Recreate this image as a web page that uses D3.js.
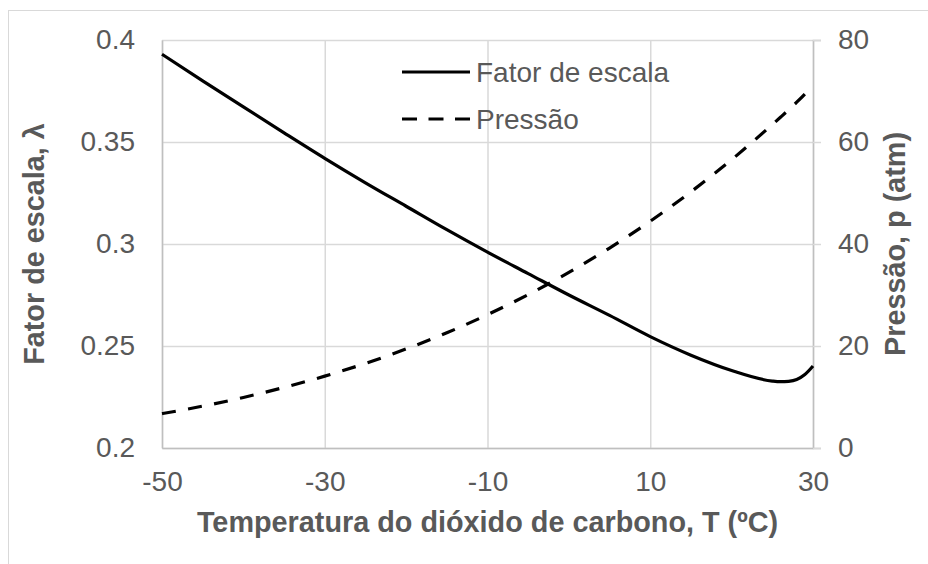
<!DOCTYPE html>
<html>
<head>
<meta charset="utf-8">
<script src="https://cdn.jsdelivr.net/npm/d3@7"></script>
<style>
  body { margin: 0; background: #fff; }
  text { font-family: Arial, "Liberation Sans", sans-serif; }
</style>
</head>
<body>
<div id="chart"></div>
<script>
// temperatura (ºC)
const temps = [-50, -45, -40, -35, -30, -25, -20, -15, -10, -5, 0, 5, 10, 15, 20, 25, 26, 27, 28, 29, 30];
// fator de escala, lambda
const lambda = [0.393, 0.3800, 0.3672, 0.3545, 0.342, 0.330, 0.3185, 0.307, 0.296, 0.2855, 0.275, 0.265, 0.2546,
    0.2455, 0.238, 0.2328, 0.2325, 0.2327, 0.2336, 0.2360, 0.2402];
// pressão (atm)
const pressure = [6.73, 8.21, 9.91, 11.88, 14.09, 16.59, 19.42, 22.59, 26.14, 30.08, 34.42, 39.21, 44.47,
    50.23, 56.53, 63.42, 64.85, 66.3, 67.8, 69.4, 71.12];

const xTicks = [-50, -30, -10, 10, 30];
const yLeftTicks = [0.2, 0.25, 0.3, 0.35, 0.4];
const yRightTicks = [0, 20, 40, 60, 80];
const seriesNames = ['Fator de escala', 'Pressão'];

const width = 928;
const height = 564;
const margin = { top: 40, bottom: 116, left: 162, right: 115 };
const textColor = '#595959';
const fs = '28px';
const titleFs = '28.8px';

const svg = d3.select('#chart')
    .append('svg')
    .attr('width', width)
    .attr('height', height);

// chart border
svg.append('rect')
    .attr('x', 8.5).attr('y', 10.5)
    .attr('width', 1000).attr('height', 1000)
    .attr('fill', 'none')
    .attr('stroke', '#d9d9d9');

const x = d3.scaleLinear()
    .domain([-50, 30])
    .range([margin.left, width - margin.right]);

const yL = d3.scaleLinear()
    .domain([0.2, 0.4])
    .range([height - margin.bottom, margin.top]);

const yR = d3.scaleLinear()
    .domain([0, 80])
    .range([height - margin.bottom, margin.top]);

// gridlines
svg.append('g')
    .attr('transform', `translate(${margin.left},0)`)
    .call(d3.axisLeft(yL).tickValues(yLeftTicks).tickSize(-(width - margin.left - margin.right)).tickFormat(''))
    .call(g => g.select('.domain').remove())
    .call(g => g.selectAll('line').attr('stroke', '#d9d9d9').attr('stroke-width', 1.5));

svg.append('g')
    .attr('transform', `translate(0,${height - margin.bottom})`)
    .call(d3.axisBottom(x).tickValues(xTicks).tickSize(-(height - margin.top - margin.bottom)).tickFormat(''))
    .call(g => g.select('.domain').remove())
    .call(g => g.selectAll('line').attr('stroke', '#d9d9d9').attr('stroke-width', 1.5));

// left axis
svg.append('g')
    .attr('transform', `translate(${margin.left},0)`)
    .call(d3.axisLeft(yL).tickValues(yLeftTicks).tickSize(0).tickPadding(27).tickFormat(d => String(d)))
    .call(g => g.select('.domain').attr('stroke', '#bfbfbf').attr('stroke-width', 1.5))
    .call(g => g.selectAll('text').attr('fill', textColor).attr('font-size', fs).attr('font-family', 'Arial, "Liberation Sans", sans-serif'));

// bottom axis
svg.append('g')
    .attr('transform', `translate(0,${height - margin.bottom})`)
    .call(d3.axisBottom(x).tickValues(xTicks).tickSize(0).tickPadding(23).tickFormat(d => String(d)))
    .call(g => g.select('.domain').attr('stroke', '#bfbfbf').attr('stroke-width', 1.5))
    .call(g => g.selectAll('text').attr('fill', textColor).attr('font-size', fs).attr('font-family', 'Arial, "Liberation Sans", sans-serif'));

// right axis
svg.append('g')
    .attr('transform', `translate(${width - margin.right},0)`)
    .call(d3.axisRight(yR).tickValues(yRightTicks).tickSize(8).tickPadding(17))
    .call(g => g.select('.domain').attr('stroke', '#bfbfbf').attr('stroke-width', 1.5))
    .call(g => g.selectAll('line').attr('stroke', '#d9d9d9').attr('stroke-width', 1.5))
    .call(g => g.selectAll('text').attr('fill', textColor).attr('font-size', fs).attr('font-family', 'Arial, "Liberation Sans", sans-serif'));

// lines
const lineL = d3.line()
    .x((d, i) => x(temps[i]))
    .y(d => yL(d))
    .curve(d3.curveMonotoneX);

const lineR = d3.line()
    .x((d, i) => x(temps[i]))
    .y(d => yR(d))
    .curve(d3.curveMonotoneX);

svg.append('path')
    .datum(pressure)
    .attr('d', lineR)
    .attr('fill', 'none')
    .attr('stroke', '#000')
    .attr('stroke-width', 3.2)
    .attr('stroke-dasharray', '14,12.5');

svg.append('path')
    .datum(lambda)
    .attr('d', lineL)
    .attr('fill', 'none')
    .attr('stroke', '#000')
    .attr('stroke-width', 3.2)
    .attr('stroke-linejoin', 'round');

// axis titles
svg.append('text')
    .attr('x', (margin.left + width - margin.right) / 2)
    .attr('y', 532)
    .attr('text-anchor', 'middle')
    .attr('font-size', titleFs)
    .attr('font-weight', 'bold')
    .attr('fill', textColor)
    .text('Temperatura do dióxido de carbono, T (ºC)');

svg.append('text')
    .attr('transform', `translate(44,${(margin.top + height - margin.bottom) / 2}) rotate(-90)`)
    .attr('text-anchor', 'middle')
    .attr('font-size', titleFs)
    .attr('font-weight', 'bold')
    .attr('fill', textColor)
    .text('Fator de escala, λ');

svg.append('text')
    .attr('transform', `translate(905,${(margin.top + height - margin.bottom) / 2}) rotate(-90)`)
    .attr('text-anchor', 'middle')
    .attr('font-size', titleFs)
    .attr('font-weight', 'bold')
    .attr('fill', textColor)
    .text('Pressão, p (atm)');

// legend
const legend = svg.append('g');
seriesNames.forEach((name, i) => {
    const ly = 72 + i * 47;
    legend.append('line')
        .attr('x1', 402).attr('x2', 470)
        .attr('y1', ly).attr('y2', ly)
        .attr('stroke', '#000')
        .attr('stroke-width', 3.2)
        .attr('stroke-dasharray', i === 1 ? '15,11.5' : null);
    legend.append('text')
        .attr('x', 476)
        .attr('y', ly + 10)
        .attr('font-size', fs)
        .attr('fill', textColor)
        .text(name);
});
</script>
</body>
</html>
